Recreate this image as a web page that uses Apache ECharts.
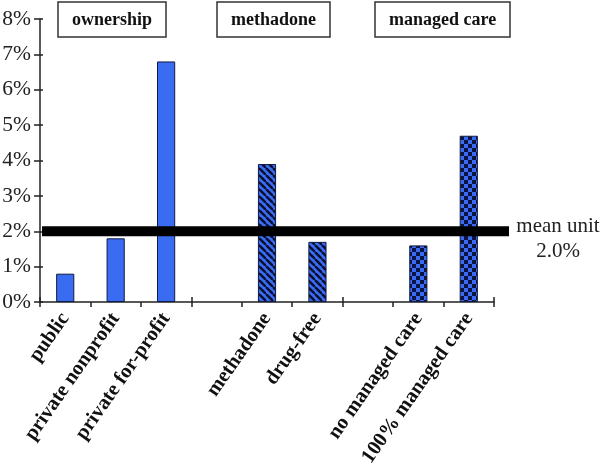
<!DOCTYPE html>
<html>
<head>
<meta charset="utf-8">
<script src="https://cdn.jsdelivr.net/npm/echarts@6/dist/echarts.min.js"></script>
<style>html,body{margin:0;padding:0;background:#fff}#c{width:600px;height:468px}</style>
</head>
<body>
<div id="c"></div>
<script>
// ---- data ----
const categories = ['public', 'private nonprofit', 'private for-profit', '', 'methadone', 'drug-free', '', 'no managed care', '100% managed care'];
const ownershipValues = [0.8, 1.8, 6.8, null, null, null, null, null, null];
const methadoneValues = [null, null, null, null, 3.9, 1.7, null, null, null];
const managedCareValues = [null, null, null, null, null, null, null, 1.6, 4.7];
const meanUnit = 2.0;
const yTicks = [0, 1, 2, 3, 4, 5, 6, 7, 8];
const groupLabels = ['ownership', 'methadone', 'managed care'];

// ---- patterns ----
const BLUE = '#3a6cf2';
function hatchPattern() {
  const c = document.createElement('canvas');
  c.width = 7; c.height = 7;
  const g = c.getContext('2d');
  g.fillStyle = BLUE; g.fillRect(0, 0, 7, 7);
  g.strokeStyle = '#0a0f30'; g.lineWidth = 2.4;
  for (const k of [-7, 0, 7]) {
    g.beginPath(); g.moveTo(k, 0); g.lineTo(k + 7, 7); g.stroke();
  }
  return c;
}
function checkPattern() {
  const c = document.createElement('canvas');
  c.width = 8; c.height = 8;
  const g = c.getContext('2d');
  g.fillStyle = '#0c1445'; g.fillRect(0, 0, 8, 8);
  g.fillStyle = BLUE;
  g.fillRect(0, 0, 4, 4); g.fillRect(4, 4, 4, 4);
  return c;
}

const chart = echarts.init(document.getElementById('c'), null, { renderer: 'canvas' });
const serif = '"Liberation Serif", "DejaVu Serif", serif';
const boxStyle = (text, left) => ({
  text, left, top: 2,
  borderColor: '#333', borderWidth: 1.5,
  padding: [8, 14, 7, 14],
  textStyle: { fontFamily: serif, fontSize: 18, fontWeight: 'bold', color: '#111', lineHeight: 20 }
});

const option = {
  animation: false,
  backgroundColor: '#fff',
  title: [
    boxStyle(groupLabels[0], 58),
    boxStyle(groupLabels[1], 217),
    boxStyle(groupLabels[2], 375)
  ],
  grid: [
    { left: 40, right: 106, top: 19, bottom: 166, containLabel: false, outerBoundsMode: 'none' },
    { left: 42, right: 91, top: 19, bottom: 166, containLabel: false, outerBoundsMode: 'none' }
  ],
  xAxis: [
    {
      type: 'category', gridIndex: 0, data: categories,
      axisLine: { lineStyle: { color: '#222', width: 1.5 } },
      axisTick: { show: true, length: 5, lineStyle: { color: '#222', width: 1.5 } },
      axisLabel: {
        interval: 0, rotate: 55, margin: 13, padding: [15, 0, 0, 0],
        fontFamily: serif, fontSize: 20.5, fontWeight: 'bold', color: '#111'
      }
    },
    {
      type: 'category', gridIndex: 0, data: categories, position: 'bottom',
      axisLine: { show: false },
      axisTick: { show: true, inside: true, length: 5, lineStyle: { color: '#222', width: 1.5 } },
      axisLabel: { show: false }
    },
    { type: 'value', gridIndex: 1, min: 0, max: 1, show: false }
  ],
  yAxis: [
    {
      type: 'value', gridIndex: 0, min: 0, max: 8, interval: 1,
      splitLine: { show: false },
      axisLine: { show: true, lineStyle: { color: '#222', width: 1.5 } },
      axisTick: { show: true, length: 6, lineStyle: { color: '#222', width: 1.5 } },
      axisLabel: {
        margin: 9, fontFamily: serif, fontSize: 21.5, color: '#222',
        formatter: v => (yTicks.includes(v) ? v + '%' : '')
      }
    },
    {
      type: 'value', gridIndex: 0, min: 0, max: 8, interval: 1, position: 'left',
      splitLine: { show: false },
      axisLine: { show: false },
      axisTick: { show: true, inside: true, length: 3, lineStyle: { color: '#222', width: 1.5 } },
      axisLabel: { show: false }
    },
    { type: 'value', gridIndex: 1, min: 0, max: 8, show: false }
  ],
  series: [
    {
      name: 'ownership', type: 'bar', xAxisIndex: 0, yAxisIndex: 0, stack: 'a',
      data: ownershipValues, barWidth: '36%',
      itemStyle: { color: BLUE, borderColor: '#111a40', borderWidth: 1 }
    },
    {
      name: 'methadone', type: 'bar', xAxisIndex: 0, yAxisIndex: 0, stack: 'a',
      data: methadoneValues, barWidth: '36%',
      itemStyle: { color: { image: hatchPattern(), repeat: 'repeat' }, borderColor: '#111a40', borderWidth: 1 }
    },
    {
      name: 'managed care', type: 'bar', xAxisIndex: 0, yAxisIndex: 0, stack: 'a',
      data: managedCareValues, barWidth: '36%',
      itemStyle: { color: { image: checkPattern(), repeat: 'repeat' }, borderColor: '#111a40', borderWidth: 1 }
    },
    {
      name: 'mean unit', type: 'line', xAxisIndex: 2, yAxisIndex: 2, z: 10,
      data: [[0, meanUnit], [1, meanUnit]],
      symbol: 'none',
      lineStyle: { color: '#000', width: 10, cap: 'butt' },
      label: { show: false },
      endLabel: {
        show: true, align: 'center', offset: [43, 8], distance: 6,
        fontFamily: serif, fontSize: 21, color: '#222', lineHeight: 25,
        formatter: p => 'mean unit\n' + p.value[1].toFixed(1) + '%'
      }
    }
  ]
};
chart.setOption(option);
</script>
</body>
</html>
